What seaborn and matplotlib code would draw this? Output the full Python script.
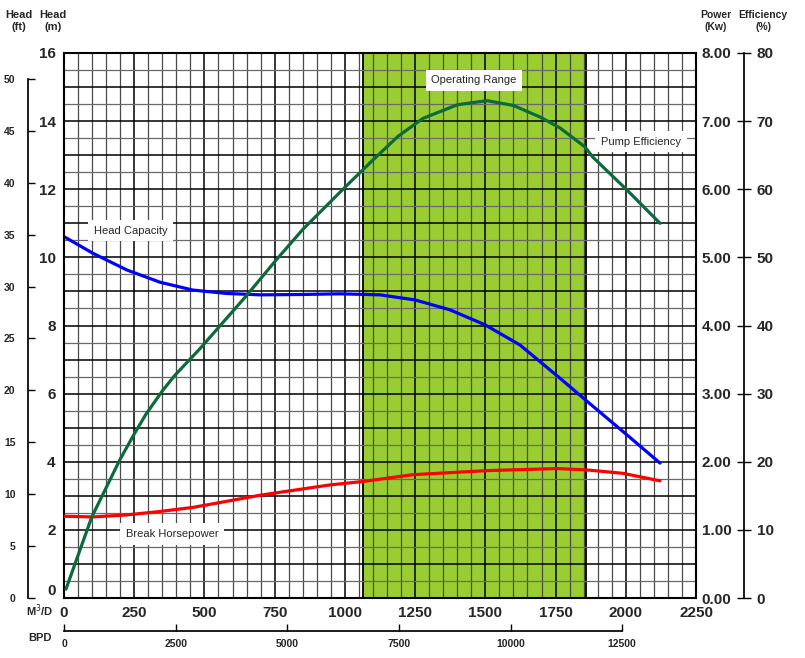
import numpy as np
import matplotlib.pyplot as plt
import seaborn as sns

# flow in M3/D
flow_head = [0, 103, 224, 342, 459, 580, 698, 840, 983, 1125, 1250, 1374, 1499, 1623, 1766, 1883, 2004, 2122]
head_m = [10.61, 10.12, 9.63, 9.27, 9.04, 8.94, 8.90, 8.91, 8.93, 8.90, 8.75, 8.46, 8.02, 7.43, 6.45, 5.63, 4.79, 3.96]

flow_eff = [7, 99, 199, 249, 292, 352, 395, 484, 650, 757, 850, 1003, 1100, 1190, 1278, 1400, 1506, 1600, 1695, 1766, 1855, 1883, 2004, 2122]
eff_pct = [1.3, 11.9, 20.3, 24.0, 27.0, 30.5, 32.7, 36.6, 44.4, 49.7, 54.1, 60.4, 64.3, 67.8, 70.4, 72.4, 73.0, 72.3, 70.6, 69.0, 66.2, 64.7, 59.9, 55.0]

flow_pw = [0, 103, 224, 342, 459, 580, 700, 865, 947, 1064, 1242, 1506, 1755, 1862, 1990, 2122]
power_kw = [1.20, 1.19, 1.22, 1.27, 1.33, 1.42, 1.51, 1.61, 1.66, 1.71, 1.81, 1.87, 1.90, 1.88, 1.83, 1.72]

op_range = [1065, 1860]

flow_ticks = [0, 250, 500, 750, 1000, 1250, 1500, 1750, 2000, 2250]
bpd_ticks = [0, 2500, 5000, 7500, 10000, 12500]
head_m_ticks = [0, 2, 4, 6, 8, 10, 12, 14, 16]
head_ft_ticks = [0, 5, 10, 15, 20, 25, 30, 35, 40, 45, 50]
power_ticks = [0, 1, 2, 3, 4, 5, 6, 7, 8]
eff_ticks = [0, 10, 20, 30, 40, 50, 60, 70, 80]

M_TO_FT = 3.28084
M3_TO_BBL = 6.2898

sns.set_theme(style='white')
plt.rcParams['font.family'] = ['Liberation Sans', 'DejaVu Sans']

W, H = 805, 658
fig = plt.figure(figsize=(W / 100, H / 100), dpi=100)
ax = fig.add_axes([64 / W, 1 - 598 / H, 632 / W, 545 / H])
ax.set_xlim(0, 2250)
ax.set_ylim(0, 16)

# operating range band, grid over it
ax.axvspan(op_range[0], op_range[1], facecolor='#9acd32', edgecolor='black', lw=1.3, zorder=0.2)
for x in np.arange(50, 2250, 50):
    major = x % 250 == 0
    ax.axvline(x, color='black' if major else '#4a4a4a', lw=1.1 if major else 0.9, zorder=0.5)
for y in np.arange(0.5, 16, 0.5):
    major = y % 1 == 0
    ax.axhline(y, color='black' if major else '#6a6a6a', lw=1.1 if major else 0.9, zorder=0.5)

for s in ax.spines.values():
    s.set_color('black')
    s.set_linewidth(1.5)

bold = dict(fontweight='bold')
ax.set_xticks(flow_ticks)
ax.set_xticklabels([str(t) for t in flow_ticks], fontsize=11, **bold)
ax.set_yticks(head_m_ticks)
ax.set_yticklabels([str(t) for t in head_m_ticks], fontsize=11, **bold)
ax.get_yticklabels()[0].set_va('bottom')
ax.tick_params(axis='x', length=0, pad=6)
ax.tick_params(axis='y', length=0, pad=6)

sns.lineplot(x=flow_head, y=head_m, ax=ax, color='#0000ff', lw=2.3, sort=False, estimator=None)
ax.set_xlabel('')
ax.set_ylabel('')

# head in ft, spine left of the plot
ax_ft = ax.twinx()
ax_ft.set_ylim(0, 16 * M_TO_FT)
for k in ['top', 'bottom', 'right']:
    ax_ft.spines[k].set_visible(False)
ax_ft.spines['left'].set_position(('axes', (28 - 64) / 632))
ax_ft.spines['left'].set_bounds(0, 50)
ax_ft.spines['left'].set_color('black')
ax_ft.yaxis.set_ticks_position('left')
ax_ft.yaxis.set_label_position('left')
ax_ft.set_yticks(head_ft_ticks)
ax_ft.set_yticklabels([str(t) for t in head_ft_ticks], fontsize=7.5, **bold)
ax_ft.tick_params(axis='y', direction='in', length=5, width=1, color='black', pad=9)

# power in kW on the plot's right edge
ax_pw = ax.twinx()
ax_pw.set_ylim(0, 8)
for s in ax_pw.spines.values():
    s.set_visible(False)
ax_pw.set_yticks(power_ticks)
ax_pw.set_yticklabels(['%.2f' % t for t in power_ticks], fontsize=11, **bold)
ax_pw.tick_params(axis='y', length=0, pad=4)
sns.lineplot(x=flow_pw, y=power_kw, ax=ax_pw, color='#ff0000', lw=2.3, sort=False, estimator=None)
ax_pw.set_ylabel('')

# efficiency %
ax_eff = ax.twinx()
ax_eff.set_ylim(0, 80)
for k in ['top', 'bottom', 'left']:
    ax_eff.spines[k].set_visible(False)
ax_eff.spines['right'].set_position(('axes', (744 - 64) / 632))
ax_eff.spines['right'].set_bounds(0, 80)
ax_eff.spines['right'].set_color('black')
ax_eff.set_yticks(eff_ticks)
ax_eff.set_yticklabels([str(t) for t in eff_ticks], fontsize=11, **bold)
ax_eff.tick_params(axis='y', direction='inout', length=10, width=1, color='black', pad=4)
sns.lineplot(x=flow_eff, y=eff_pct, ax=ax_eff, color='#0b6b3a', lw=2.3, sort=False, estimator=None)
ax_eff.set_ylabel('')

# BPD axis under the plot
ax_bpd = ax.twiny()
ax_bpd.set_xlim(0, 2250 * M3_TO_BBL)
for k in ['top', 'left', 'right']:
    ax_bpd.spines[k].set_visible(False)
ax_bpd.spines['bottom'].set_position(('axes', -33 / 545))
ax_bpd.spines['bottom'].set_bounds(0, 12500)
ax_bpd.spines['bottom'].set_color('black')
ax_bpd.xaxis.set_ticks_position('bottom')
ax_bpd.xaxis.set_label_position('bottom')
ax_bpd.set_xticks(bpd_ticks)
ax_bpd.set_xticklabels([str(t) for t in bpd_ticks], fontsize=7.5, **bold)
ax_bpd.tick_params(axis='x', direction='in', length=5, width=1, color='black', pad=6)

# curve labels
box = dict(facecolor='white', edgecolor='none', pad=4)
ax.text(1460, 15.2, 'Operating Range', fontsize=8, ha='center', va='center', bbox=box, zorder=5)
ax.text(2054, 13.39, 'Pump Efficiency', fontsize=8, ha='center', va='center', bbox=box, zorder=5)
ax.text(238, 10.78, 'Head Capacity', fontsize=8, ha='center', va='center', bbox=box, zorder=5)
ax.text(384, 1.88, 'Break Horsepower', fontsize=8, ha='center', va='center', bbox=box, zorder=5)

# axis headers
hdr = dict(fontsize=8, fontweight='bold', ha='center', va='center', linespacing=1.3)
fig.text(19 / W, 1 - 21 / H, 'Head\n(ft)', **hdr)
fig.text(53 / W, 1 - 21 / H, 'Head\n(m)', **hdr)
fig.text(716 / W, 1 - 21 / H, 'Power\n(Kw)', fontsize=7.5, fontweight='bold', ha='center', va='center', linespacing=1.35)
fig.text(763 / W, 1 - 21 / H, 'Efficiency\n(%)', fontsize=7.5, fontweight='bold', ha='center', va='center', linespacing=1.35)
fig.text(40 / W, 1 - 611 / H, 'M$^3$/D', **hdr)
fig.text(40 / W, 1 - 638 / H, 'BPD', **hdr)

fig.savefig('out.png', dpi=100)
